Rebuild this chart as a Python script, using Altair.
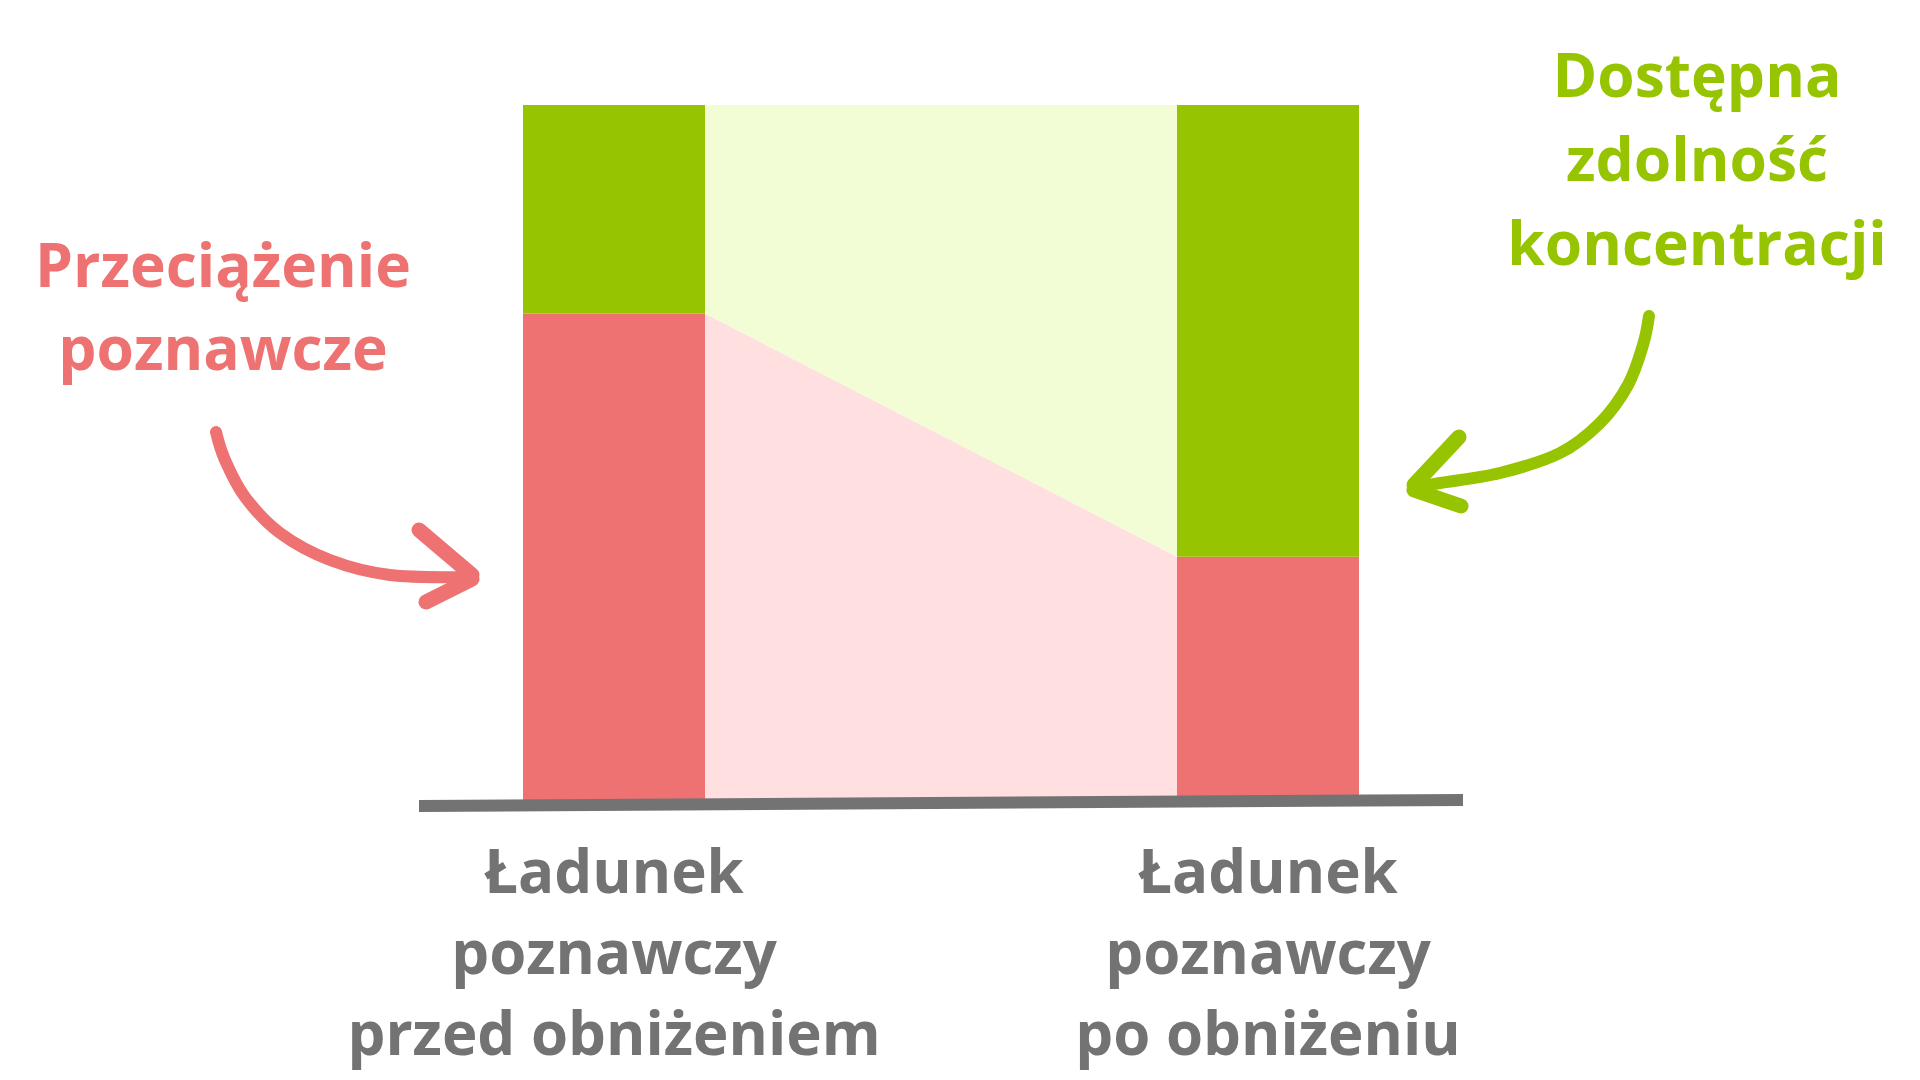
import altair as alt
import pandas as pd

# ---------------- chart values ----------------
stage_labels = ["Ładunek\npoznawczy\nprzed obniżeniem", "Ładunek\npoznawczy\npo obniżeniu"]
stage_pos = [0, 1]
overload = [70, 35]      # Przeciążenie poznawcze
capacity = [30, 65]      # Dostępna zdolność koncentracji
label_overload = "Przeciążenie\npoznawcze"
label_capacity = "Dostępna\nzdolność\nkoncentracji"

# ---------------- styles / layout ----------------
W, H = 1904, 1064
RED, PINK = "#EE7272", "#FFDFE0"
GREEN, LIGHTGREEN = "#96C400", "#F2FDD5"
GRAY = "#737373"
FONT = "Open Sans"
X_RANGE = [606, 1260]      # stage 0 -> 1 centres (chart px)
Y_RANGE = [792, 97]        # 0 -> 100 (chart px)
BAR_HALF = 91 / 654        # half bar width in stage units

# annotation layout in page pixels (decoration only)
ann_text = pd.DataFrame({
    "px": [223, 1697], "py": [287, 97],
    "txt": [label_overload, label_capacity], "kind": ["red", "green"],
})
red_shaft = [(216, 432), (225, 460), (245, 497), (280, 533), (330, 560), (390, 575), (468, 577)]
green_shaft = [(1649, 316), (1643, 345), (1628, 385), (1600, 423), (1560, 453), (1500, 473), (1440, 483), (1418, 487)]
red_head = [((419, 530), (472, 575)), ((472, 579), (426, 602))]
green_head = [((1459, 437), (1414, 485)), ((1414, 490), (1461, 506))]
base_line = [((419, 806), (1463, 800))]

# ---------------- data tables ----------------
total = [o + c for o, c in zip(overload, capacity)]
bars = pd.DataFrame({
    "x0": [p - BAR_HALF for p in stage_pos] * 2,
    "x1": [p + BAR_HALF for p in stage_pos] * 2,
    "y0": [0, 0] + overload,
    "y1": overload + total,
    "seg": ["over", "over", "cap", "cap"],
})
band = pd.DataFrame({
    "x": [stage_pos[0] + BAR_HALF, stage_pos[1] - BAR_HALF],
    "over": overload, "zero": [0, 0], "tot": total,
})
stages = pd.DataFrame({"x": stage_pos, "lab": stage_labels})

def shaft_df(pts):
    return pd.DataFrame({"i": range(len(pts)), "px": [p[0] for p in pts], "py": [p[1] for p in pts]})

def seg_df(segs):
    return pd.DataFrame({"px": [s[0][0] for s in segs], "py": [s[0][1] for s in segs],
                         "px2": [s[1][0] for s in segs], "py2": [s[1][1] for s in segs]})

# ---------------- scales ----------------
xs = alt.Scale(domain=[0, 1], range=X_RANGE, nice=False, zero=False)
ys = alt.Scale(domain=[0, 100], range=Y_RANGE, nice=False, zero=False)
pxs = alt.Scale(domain=[8, 8 + W], range=[0, W], nice=False, zero=False)
pys = alt.Scale(domain=[8, 8 + H], range=[0, H], nice=False, zero=False)

def X(f): return alt.X(f, type="quantitative", scale=xs, axis=None)
def Y(f): return alt.Y(f, type="quantitative", scale=ys, axis=None)
def PX(f): return alt.X(f, type="quantitative", scale=pxs, axis=None)
def PY(f): return alt.Y(f, type="quantitative", scale=pys, axis=None)

band_over = alt.Chart(band).mark_area(color=PINK, opacity=1).encode(
    x=X("x"), y=Y("over"), y2="zero")
band_cap = alt.Chart(band).mark_area(color=LIGHTGREEN, opacity=1).encode(
    x=X("x"), y=Y("tot"), y2="over")
bar_over = alt.Chart(bars).transform_filter("datum.seg == 'over'").mark_bar(color=RED).encode(
    x=X("x0"), x2="x1", y=Y("y0"), y2="y1")
bar_cap = alt.Chart(bars).transform_filter("datum.seg == 'cap'").mark_bar(color=GREEN).encode(
    x=X("x0"), x2="x1", y=Y("y0"), y2="y1")
stage_text = alt.Chart(stages).mark_text(
    font=FONT, fontWeight="bold", fontSize=60, color=GRAY, lineBreak="\n",
    lineHeight=81, align="center", baseline="alphabetic").encode(
    x=X("x"), y=alt.value(885), text="lab:N")

baseline = alt.Chart(seg_df(base_line)).mark_rule(color=GRAY, strokeWidth=12, strokeCap="butt").encode(
    x=PX("px"), y=PY("py"), x2="px2", y2="py2")

def arrow(shaft, head, color):
    s = alt.Chart(shaft_df(shaft)).mark_line(color=color, strokeWidth=12, strokeCap="round",
                                             interpolate="cardinal").encode(
        x=PX("px"), y=PY("py"), order="i:Q")
    h = alt.Chart(seg_df(head)).mark_rule(color=color, strokeWidth=15, strokeCap="round").encode(
        x=PX("px"), y=PY("py"), x2="px2", y2="py2")
    return [s, h]

red_txt = alt.Chart(ann_text).transform_filter("datum.kind == 'red'").mark_text(
    font=FONT, fontWeight="bold", fontSize=60.5, color=RED, lineBreak="\n", lineHeight=83,
    align="center", baseline="alphabetic").encode(x=PX("px"), y=PY("py"), text="txt:N")
green_txt = alt.Chart(ann_text).transform_filter("datum.kind == 'green'").mark_text(
    font=FONT, fontWeight="bold", fontSize=60.5, color=GREEN, lineBreak="\n", lineHeight=84,
    align="center", baseline="alphabetic").encode(x=PX("px"), y=PY("py"), text="txt:N")

layers = [band_over, band_cap, bar_over, bar_cap, baseline, stage_text, red_txt, green_txt]
layers += arrow(red_shaft, red_head, RED)
layers += arrow(green_shaft, green_head, GREEN)

chart = alt.layer(*layers).resolve_scale(x="independent", y="independent").properties(
    width=W, height=H, padding=0, autosize=alt.AutoSizeParams(type="none"),
    background="white",
).configure_view(stroke=None)

chart.save("out.html", embed_options={"renderer": "svg", "actions": False})
